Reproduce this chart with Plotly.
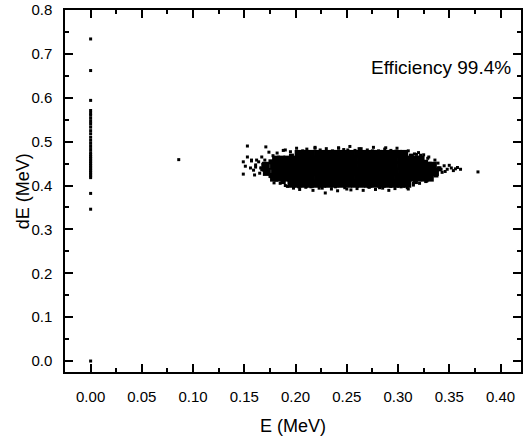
import plotly.graph_objects as go

# ---- data ----
# hits at E = 0 (no energy deposited in the E detector)
strip_E = [0.0] * 35
strip_dE = [0.734, 0.662, 0.594, 0.571, 0.565, 0.560, 0.553, 0.546, 0.540, 0.533,
            0.525, 0.518, 0.510, 0.503, 0.496, 0.489, 0.482, 0.475, 0.470, 0.466,
            0.462, 0.458, 0.454, 0.450, 0.446, 0.442, 0.438, 0.434, 0.430, 0.426,
            0.422, 0.418, 0.382, 0.346, 0.0]

# dense core of the E-dE cluster (rows of heavily overlapping hits)
core_rowA_E = [0.203, 0.209, 0.215, 0.222, 0.228, 0.235, 0.241, 0.248, 0.254, 0.261,
               0.267, 0.274, 0.280, 0.287, 0.294, 0.300, 0.306]
core_rowA_dE = 0.472
core_rowB_E = [0.181, 0.186, 0.192, 0.199, 0.205, 0.212, 0.218, 0.225, 0.231, 0.238,
               0.244, 0.251, 0.257, 0.264, 0.270, 0.277, 0.283, 0.290, 0.296, 0.303,
               0.309, 0.316, 0.322]
core_rowB_dE = 0.459
core_rowC_E = [0.171, 0.179, 0.186, 0.192, 0.199, 0.205, 0.212, 0.218, 0.225, 0.231,
               0.238, 0.244, 0.251, 0.257, 0.264, 0.270, 0.277, 0.283, 0.290, 0.296,
               0.303, 0.309, 0.316, 0.322, 0.329, 0.334]
core_rowC_dE = 0.445
core_rowD_E = [0.172, 0.180, 0.187, 0.193, 0.200, 0.206, 0.213, 0.219, 0.226, 0.232,
               0.239, 0.245, 0.252, 0.258, 0.265, 0.271, 0.278, 0.284, 0.291, 0.297,
               0.304, 0.310, 0.317, 0.324, 0.331, 0.336]
core_rowD_dE = 0.431
core_rowE_E = [0.179, 0.183, 0.189, 0.196, 0.202, 0.209, 0.215, 0.222, 0.228, 0.235,
               0.241, 0.248, 0.254, 0.261, 0.267, 0.274, 0.280, 0.287, 0.293, 0.300,
               0.306, 0.313, 0.319, 0.326, 0.331]
core_rowE_dE = 0.418
core_rowF_E = [0.196, 0.202, 0.208, 0.214, 0.220, 0.226, 0.232, 0.238, 0.245, 0.251,
               0.258, 0.264, 0.271, 0.277, 0.284, 0.290, 0.297, 0.303, 0.309]
core_rowF_dE = 0.404

# softening hits at the corners of the core
corner_E = [0.196, 0.313, 0.176, 0.327, 0.188, 0.317, 0.176, 0.337, 0.340, 0.168]
corner_dE = [0.467, 0.467, 0.454, 0.453, 0.409, 0.409, 0.423, 0.424, 0.438, 0.438]

# scattered hits around the cluster edge, plus isolated outliers
edge_E = [0.153, 0.149, 0.149, 0.160, 0.153, 0.157, 0.162, 0.151, 0.156, 0.161,
          0.157, 0.161, 0.164, 0.167, 0.159, 0.169, 0.174, 0.171, 0.179, 0.229,
          0.190, 0.219, 0.242, 0.251, 0.203, 0.215, 0.239, 0.261, 0.271,
          0.262, 0.275, 0.288, 0.298, 0.308, 0.318, 0.282, 0.293, 0.305, 0.190,
          0.250, 0.226, 0.335, 0.338, 0.340, 0.343, 0.345, 0.348, 0.352, 0.356,
          0.333, 0.336, 0.330, 0.328, 0.320, 0.315, 0.310, 0.325, 0.086, 0.378,
          0.182, 0.188, 0.195, 0.201, 0.207, 0.211, 0.219, 0.224, 0.230, 0.236,
          0.242, 0.247, 0.253, 0.258, 0.264, 0.270, 0.276, 0.281, 0.287, 0.293,
          0.299, 0.304, 0.310, 0.316, 0.322,
          0.185, 0.192, 0.198, 0.204, 0.210, 0.217, 0.223, 0.235, 0.241, 0.248,
          0.254, 0.260, 0.266, 0.272, 0.278, 0.285, 0.291, 0.297, 0.303, 0.309,
          0.315, 0.321, 0.327,
          0.165, 0.168, 0.170, 0.166, 0.176, 0.178,
          0.334, 0.337, 0.339, 0.342, 0.346, 0.350, 0.354, 0.358, 0.361, 0.331, 0.329]
edge_dE = [0.490, 0.454, 0.426, 0.424, 0.465, 0.456, 0.458, 0.444, 0.440, 0.442,
           0.458, 0.447, 0.454, 0.465, 0.435, 0.435, 0.476, 0.488, 0.406, 0.383,
           0.481, 0.485, 0.485, 0.481, 0.397, 0.397, 0.397, 0.401, 0.397,
           0.484, 0.479, 0.486, 0.478, 0.474, 0.471, 0.395, 0.398, 0.400, 0.400,
           0.392, 0.394, 0.450, 0.435, 0.440, 0.430, 0.445, 0.437, 0.440, 0.438,
           0.425, 0.458, 0.465, 0.410, 0.475, 0.405, 0.392, 0.470, 0.459, 0.431,
           0.474, 0.480, 0.477, 0.485, 0.479, 0.483, 0.487, 0.481, 0.484, 0.479,
           0.486, 0.482, 0.489, 0.480, 0.484, 0.481, 0.487, 0.479, 0.483, 0.480,
           0.485, 0.476, 0.479, 0.472, 0.469,
           0.405, 0.398, 0.394, 0.391, 0.396, 0.389, 0.394, 0.392, 0.388, 0.395,
           0.390, 0.393, 0.389, 0.396, 0.391, 0.394, 0.389, 0.393, 0.397, 0.395,
           0.401, 0.405, 0.409,
           0.428, 0.448, 0.458, 0.440, 0.420, 0.468,
           0.443, 0.428, 0.451, 0.437, 0.432, 0.446, 0.434, 0.441, 0.437, 0.418, 0.462]

x_ticks = [0.0, 0.05, 0.10, 0.15, 0.20, 0.25, 0.30, 0.35, 0.40]
y_ticks = [0.0, 0.1, 0.2, 0.3, 0.4, 0.5, 0.6, 0.7, 0.8]

rows = [(core_rowA_E, core_rowA_dE), (core_rowB_E, core_rowB_dE),
        (core_rowC_E, core_rowC_dE), (core_rowD_E, core_rowD_dE),
        (core_rowE_E, core_rowE_dE), (core_rowF_E, core_rowF_dE)]
core_E = [e for es, _ in rows for e in es]
core_dE = [d for es, d in rows for _ in es]

fig = go.Figure()
fig.add_trace(go.Scatter(x=core_E, y=core_dE, mode="markers",
                         marker=dict(symbol="square", size=8, color="black", line_width=0)))
fig.add_trace(go.Scatter(x=corner_E, y=corner_dE, mode="markers",
                         marker=dict(symbol="square", size=5, color="black", line_width=0)))
fig.add_trace(go.Scatter(x=edge_E + strip_E, y=edge_dE + strip_dE, mode="markers",
                         marker=dict(symbol="square", size=3, color="black", line_width=0)))

axis_common = dict(
    showgrid=False, zeroline=False, showline=True, linecolor="black", linewidth=1.5,
    mirror="allticks", ticks="inside", ticklen=8, tickwidth=1.5, tickcolor="black",
    tickfont=dict(family="Liberation Sans, Arial", size=15, color="black"),
)

fig.update_layout(
    width=524, height=442,
    margin=dict(l=65, r=1, t=10, b=70),
    paper_bgcolor="white", plot_bgcolor="white",
    showlegend=False,
    font=dict(family="Liberation Sans, Arial", color="black"),
    xaxis=dict(range=[-0.025, 0.42], tickvals=x_ticks, tickformat=".2f",
               ticklabelstandoff=10,
               title=dict(text="E (MeV)", font=dict(size=18), standoff=16),
               minor=dict(ticks="inside", dtick=0.025, tick0=0, ticklen=4,
                          tickwidth=1.5, tickcolor="black"),
               **axis_common),
    yaxis=dict(range=[-0.025, 0.8], tickvals=y_ticks, tickformat=".1f",
               ticklabelstandoff=8,
               minor=dict(ticks="inside", dtick=0.05, tick0=0, ticklen=4,
                          tickwidth=1.5, tickcolor="black"),
               **axis_common),
    annotations=[
        dict(x=0.412, y=0.668, xref="x", yref="y", xanchor="right",
             yanchor="middle", text="Efficiency 99.4%", showarrow=False,
             font=dict(size=19, color="black")),
        dict(x=-0.0917, y=0.5, xref="paper", yref="paper", xanchor="center",
             yanchor="middle", text="dE (MeV)", textangle=-90, showarrow=False,
             font=dict(size=18, color="black")),
    ],
)

fig.write_html("out.html")
